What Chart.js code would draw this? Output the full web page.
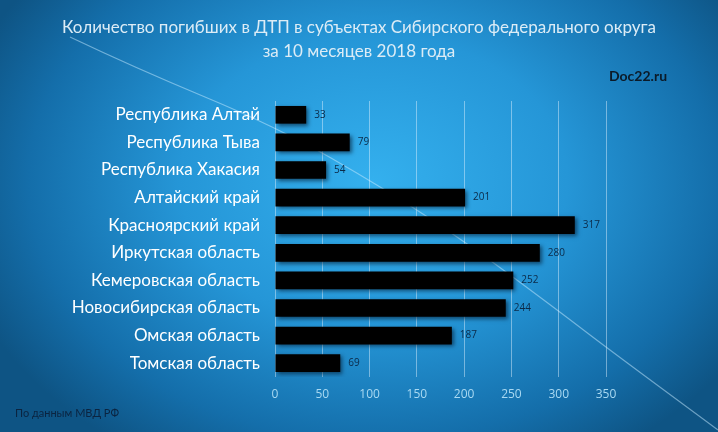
<!DOCTYPE html>
<html>
<head>
<meta charset="utf-8">
<script src="https://cdn.jsdelivr.net/npm/chart.js@4"></script>
<style>
    html, body { margin: 0; padding: 0; }
    body {
        width: 718px;
        height: 432px;
        overflow: hidden;
        background:
            radial-gradient(ellipse 60% 75% at 52% 42%, rgba(52, 176, 238, 1) 0%, rgba(37, 150, 215, 1) 45%, rgba(20, 110, 170, 1) 80%, rgba(14, 84, 132, 1) 100%);
    }
    #wrap { position: relative; width: 718px; height: 432px; }
</style>
</head>
<body>
<div id="wrap"><canvas id="chart" width="718" height="432"></canvas></div>
<script>
let regions = [
    "Республика Алтай",
    "Республика Тыва",
    "Республика Хакасия",
    "Алтайский край",
    "Красноярский край",
    "Иркутская область",
    "Кемеровская область",
    "Новосибирская область",
    "Омская область",
    "Томская область"
];

let deaths = [33, 79, 54, 201, 317, 280, 252, 244, 187, 69];

let xTicks = [0, 50, 100, 150, 200, 250, 300, 350];

let titleLines = [
    "Количество погибших в ДТП в субъектах Сибирского федерального округа",
    "за 10 месяцев 2018 года"
];

// background swoosh, only decoration
let swoosh = [[70, 37], [133, 67], [277, 127], [385, 189], [467, 243], [560, 312], [607, 348], [718, 430]];

let decorPlugin = {
    id: "decor",
    beforeDraw(chart) {
        let ctx = chart.ctx;
        ctx.save();
        ctx.strokeStyle = "rgba(200, 235, 255, 0.5)";
        ctx.lineWidth = 1.2;
        ctx.beginPath();
        ctx.moveTo(swoosh[0][0], swoosh[0][1]);
        for (let i = 1; i < swoosh.length - 1; i++) {
            let mx = (swoosh[i][0] + swoosh[i + 1][0]) / 2;
            let my = (swoosh[i][1] + swoosh[i + 1][1]) / 2;
            ctx.quadraticCurveTo(swoosh[i][0], swoosh[i][1], mx, my);
        }
        let last = swoosh[swoosh.length - 1];
        ctx.lineTo(last[0], last[1]);
        ctx.stroke();
        ctx.restore();
    },
    afterDraw(chart) {
        let ctx = chart.ctx;
        ctx.save();
        ctx.textAlign = "center";
        ctx.textBaseline = "middle";
        ctx.fillStyle = "#dcecf6";
        ctx.font = "17px Lato";
        ctx.fillText(titleLines[0], 359, 28);
        ctx.fillText(titleLines[1], 359, 52);

        ctx.textAlign = "left";
        ctx.fillStyle = "#0b1a28";
        ctx.font = "bold 14px Lato";
        ctx.fillText("Doc22.ru", 609, 76);

        ctx.fillStyle = "#0b2440";
        ctx.font = "11px Lato";
        ctx.fillText("По данным МВД РФ", 15, 413);
        ctx.restore();
    }
};

let shadowPlugin = {
    id: "barShadow",
    beforeDatasetsDraw(chart) {
        let ctx = chart.ctx;
        ctx.save();
        ctx.shadowColor = "rgba(0, 20, 40, 0.6)";
        ctx.shadowBlur = 4;
        ctx.shadowOffsetX = 2;
        ctx.shadowOffsetY = 2;
    },
    afterDatasetsDraw(chart) {
        chart.ctx.restore();

        let ctx = chart.ctx;
        let meta = chart.getDatasetMeta(0);
        ctx.save();
        ctx.fillStyle = "#0c2a48";
        ctx.font = "10px 'Open Sans'";
        ctx.textAlign = "left";
        ctx.textBaseline = "middle";
        meta.data.forEach((bar, i) => {
            ctx.fillText(deaths[i], bar.x + 8, bar.y);
        });
        ctx.restore();
    }
};

new Chart(document.getElementById("chart"), {
    type: "bar",
    data: {
        labels: regions,
        datasets: [{
            data: deaths,
            backgroundColor: "#000000",
            borderWidth: 0,
            barPercentage: 0.64,
            categoryPercentage: 1.0
        }]
    },
    options: {
        indexAxis: "y",
        responsive: false,
        animation: false,
        devicePixelRatio: 1,
        layout: { padding: { top: 101, right: 112, left: 0, bottom: 0 } },
        plugins: {
            legend: { display: false },
            tooltip: { enabled: false }
        },
        scales: {
            x: {
                min: 0,
                max: 350,
                afterBuildTicks: (s) => { s.ticks = xTicks.map(v => ({ value: v })); },
                afterFit: (s) => { s.height = 432 - 377; },
                grid: {
                    color: "rgba(230, 245, 255, 0.45)",
                    lineWidth: 1,
                    drawTicks: false
                },
                border: { display: false },
                ticks: {
                    color: "#a9d9f2",
                    font: { family: "Open Sans", size: 12 },
                    padding: 10
                }
            },
            y: {
                afterFit: (s) => { s.width = 275; },
                grid: { display: false, drawTicks: false },
                border: { display: false },
                ticks: {
                    color: "#ffffff",
                    font: { family: "Lato", size: 17 },
                    padding: 15
                }
            }
        }
    },
    plugins: [decorPlugin, shadowPlugin]
});
</script>
</body>
</html>
